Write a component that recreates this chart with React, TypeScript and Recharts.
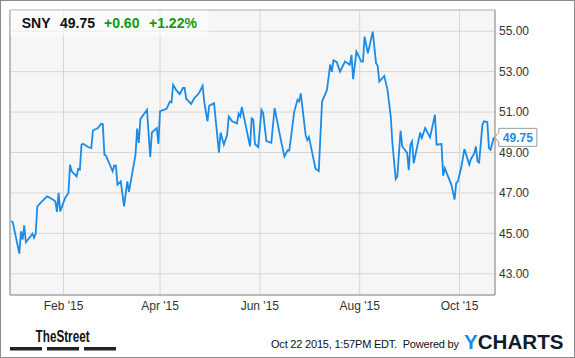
import React from 'react';
import {
  LineChart,
  Line,
  XAxis,
  YAxis,
  CartesianGrid,
  ReferenceLine,
  ReferenceDot,
} from 'recharts';

// days counted from Jan 1 2015, closing prices
const days = [
  -1, 0, 4, 5, 6, 7, 8, 11, 12, 13,
  14, 15, 18, 21, 23, 26, 27, 28, 29, 32,
  34, 35, 36, 39, 40, 41, 42, 43, 46, 48,
  49, 52, 54, 55, 56, 57, 61, 62, 63, 64,
  66, 68, 70, 71, 75, 76, 77, 78, 82, 84,
  85, 88, 89, 90, 94, 96, 97, 98, 100, 102,
  104, 105, 106, 109, 111, 112, 114, 116, 117, 119,
  120, 123, 126, 127, 129, 131, 132, 134, 137, 138,
  139, 140, 145, 146, 147, 148, 150, 152, 153, 155,
  158, 160, 164, 166, 168, 169, 172, 174, 175, 176,
  179, 180, 181, 185, 187, 189, 192, 194, 195, 196,
  198, 200, 203, 206, 207, 208, 210, 213, 214, 215,
  217, 220, 222, 223, 224, 227, 229, 231, 232, 234,
  235, 237, 238, 241, 242, 243, 244, 245, 249, 250,
  252, 255, 258, 259, 262, 263, 264, 268, 270, 271,
  272, 274, 276, 279, 280, 282, 283, 284, 285, 287,
  288, 290, 291, 292, 294,
];

const prices = [
  45.6, 45.55, 44.0, 45.1, 44.69, 45.39, 44.56, 44.86, 44.98, 44.78,
  44.98, 46.34, 46.59, 46.83, 46.75, 46.59, 46.06, 47.0, 46.09, 46.75,
  47.0, 48.4, 48.07, 47.82, 48.19, 48.15, 49.39, 49.43, 49.27, 49.22,
  50.09, 50.21, 50.42, 50.41, 48.89, 48.84, 48.07, 48.36, 48.35, 47.41,
  47.57, 46.34, 47.57, 47.05, 48.89, 50.18, 49.47, 50.65, 51.11, 48.78,
  49.99, 50.21, 49.43, 51.05, 51.16, 51.52, 51.47, 52.35, 52.07, 51.89,
  52.19, 52.19, 51.66, 51.4, 51.69, 51.77, 51.97, 52.3, 51.52, 50.54,
  51.31, 51.44, 48.99, 49.99, 49.39, 49.88, 50.78, 50.54, 50.44, 50.92,
  50.78, 51.25, 49.3, 50.69, 50.62, 49.42, 49.27, 51.11, 50.95, 49.56,
  49.48, 51.2, 49.55, 48.81, 49.11, 49.1, 51.01, 51.61, 51.52, 51.92,
  49.85, 49.61, 49.77, 48.2, 48.08, 51.52, 52.09, 53.36, 52.99, 53.57,
  53.47, 53.0, 53.5, 53.34, 53.83, 52.63, 53.99, 53.5, 53.5, 54.73,
  53.91, 54.98, 53.42, 53.29, 52.51, 52.79, 52.1, 50.78, 49.47, 47.69,
  47.82, 50.09, 49.3, 48.98, 48.13, 49.39, 49.55, 48.47, 49.99, 49.72,
  50.21, 49.75, 50.87, 49.39, 49.42, 47.85, 48.23, 47.41, 46.67, 47.49,
  47.57, 48.23, 49.17, 48.4, 48.68, 48.94, 49.3, 48.56, 48.51, 50.37,
  50.54, 50.51, 49.22, 49.14, 49.75,
];

const tickDays = [31, 90, 151, 212, 273];
const tickLabels = ["Feb '15", "Apr '15", "Jun '15", "Aug '15", "Oct '15"];
const priceTicks = [43, 45, 47, 49, 51, 53, 55];

const ticker = 'SNY';
const lastPrice = 49.75;
const change = '+0.60';
const changePct = '+1.22%';
const timestamp = 'Oct 22 2015, 1:57PM EDT.  Powered by';

const data = days.map((d, i) => ({ day: d, price: prices[i] }));

const BLUE = '#1b8be8';
const GREEN = '#119911';

const PriceTag = (props: any) => {
  const { cx, cy } = props;
  const l = cx + 5;
  const r = l + 38;
  return (
    <g>
      <path
        d={`M${cx + 1},${cy} L${l},${cy - 5} L${l},${cy - 9} L${r},${cy - 9} L${r},${cy + 9} L${l},${cy + 9} L${l},${cy + 5} Z`}
        fill="#fff"
        stroke="#9a9a9a"
        strokeWidth={1}
      />
      <text x={l + 4} y={cy + 4.5} fontSize={12} fontWeight="bold" fill={BLUE}>
        {lastPrice.toFixed(2)}
      </text>
    </g>
  );
};

export default function App() {
  return (
    <div
      style={{
        position: 'absolute',
        left: 0,
        top: 0,
        width: 575,
        height: 358,
        background: '#fff',
        fontFamily: "'Liberation Sans', Arial, sans-serif",
      }}
    >
      <LineChart width={575} height={358} data={data} margin={{ top: 10, right: 0, bottom: 38, left: 10 }}>
        <CartesianGrid stroke="#d6d6d6" fill="#f6f6f6" />
        <XAxis
          dataKey="day"
          type="number"
          domain={[-1.7, 294.7]}
          ticks={tickDays}
          tickFormatter={(v: number) => tickLabels[tickDays.indexOf(v)]}
          axisLine={{ stroke: '#8c8c8c' }}
          tickLine={false}
          tickSize={0}
          tickMargin={6}
          height={25}
          tick={{ fill: '#333', fontSize: 12 }}
          allowDataOverflow
        />
        <YAxis
          orientation="right"
          domain={[41.95, 56.05]}
          ticks={priceTicks}
          tickFormatter={(v: number) => v.toFixed(2)}
          axisLine={{ stroke: '#8c8c8c' }}
          tickLine={false}
          tickSize={0}
          tickMargin={4}
          width={80}
          tick={{ fill: '#333', fontSize: 12, textAnchor: 'start' }}
          allowDataOverflow
        />
        <ReferenceLine x={-1.7} stroke="#8c8c8c" />
        <ReferenceLine y={56.05} stroke="#bdbdbd" />
        <Line
          dataKey="price"
          stroke={BLUE}
          strokeWidth={1.8}
          dot={false}
          isAnimationActive={false}
        />
        <ReferenceDot x={294} y={lastPrice} shape={PriceTag} />
      </LineChart>

      <svg
        width={575}
        height={358}
        style={{ position: 'absolute', left: 0, top: 0, pointerEvents: 'none' }}
      >
        <rect x={0.5} y={0.5} width={574} height={357} fill="none" stroke="#8c8c8c" />
        {/* quote header */}
        <rect x={10.5} y={10.5} width={198} height={26} fill="#fff" fillOpacity={0.55} />
        <g fontSize={14} fontWeight="bold">
          <text x={21.7} y={28.3} fill="#111">{ticker}</text>
          <text x={60} y={28.3} fill="#111">{lastPrice.toFixed(2)}</text>
          <text x={104} y={28.3} fill={GREEN}>{change}</text>
          <text x={149} y={28.3} fill={GREEN}>{changePct}</text>
        </g>
        {/* footer */}
        <text
          x={35.6}
          y={341.5}
          fontSize={16}
          fontWeight="bold"
          fontFamily="'Liberation Sans Narrow', 'Liberation Sans', sans-serif"
          textLength={54}
          lengthAdjust="spacingAndGlyphs"
          fill="#111"
        >
          TheStreet
        </text>
        <rect x={10} y={347} width={32} height={3.5} fill="#222" />
        <rect x={47} y={347} width={32} height={3.5} fill="#222" />
        <rect x={84} y={347} width={32} height={3.5} fill="#222" />
        <text x={271} y={347.5} fontSize={11} fill="#111" textLength={188} lengthAdjust="spacing" xmlSpace="preserve">
          {timestamp}
        </text>
        <text x={464} y={349} fontSize={20} fontWeight="bold" textLength={99.5} lengthAdjust="spacingAndGlyphs">
          <tspan fill={BLUE}>Y</tspan>
          <tspan fill="#0f1c2b">CHARTS</tspan>
        </text>
      </svg>
    </div>
  );
}
